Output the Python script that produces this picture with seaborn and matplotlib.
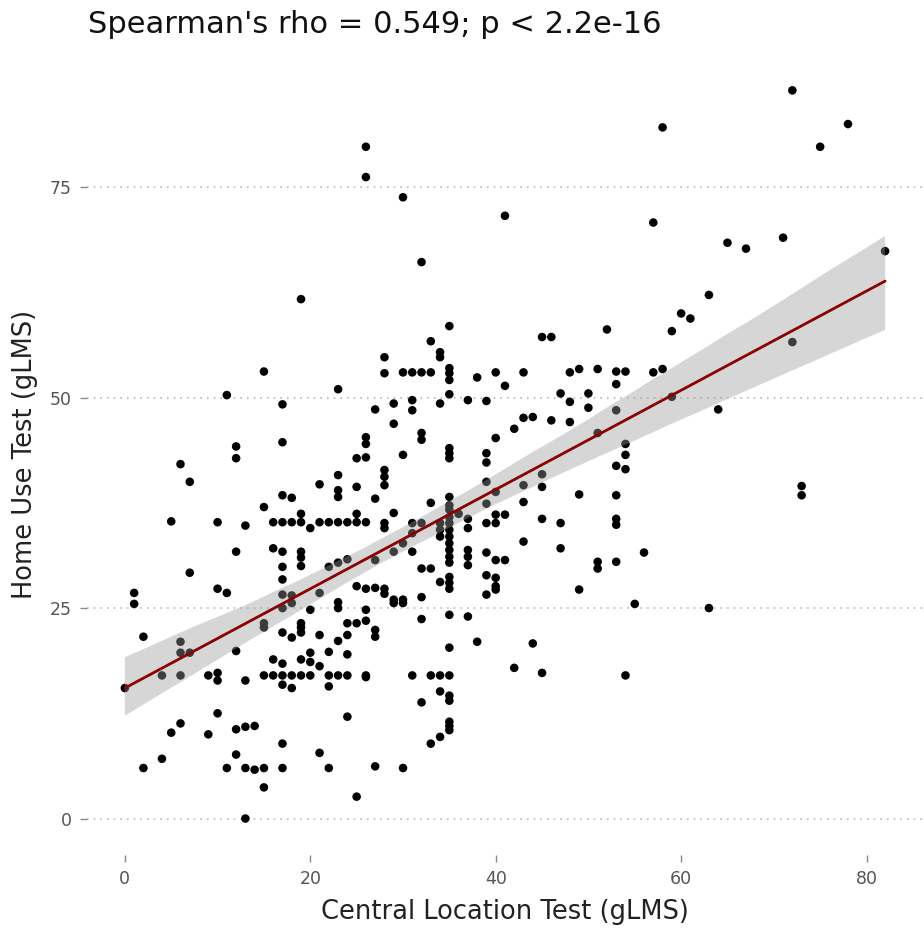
import numpy as np
import pandas as pd
import seaborn as sns
import matplotlib.pyplot as plt

# ---- data ----
clt = [
    72, 78, 75, 58, 57, 65, 67, 71, 82, 63, 60, 61, 59, 72,
    26, 26, 19,
    30, 41, 32, 35, 33, 45, 46, 52,
    15, 23, 11, 17, 27, 26, 26, 17, 12, 12, 25, 26, 6, 23, 7, 21, 23, 23, 25, 17, 18, 27, 15, 5, 10, 13,
    16, 17, 18, 19, 21, 22, 23, 24, 25, 26,
    19, 25, 20, 12, 16, 17, 19, 19, 19, 17, 7, 17, 22, 23, 24, 27, 17, 18, 21, 25, 26, 10, 11, 1, 1,
    2, 6, 6, 7, 4, 6, 0, 12, 9, 10, 10, 13, 15, 15, 20, 23, 23, 26, 24, 25, 26, 27, 17, 18, 19, 19, 19,
    21, 24, 23, 22, 20, 20, 24, 16, 17, 19, 21,
    15, 16, 17, 18, 19, 20, 22, 23, 24, 26,
    17, 18, 22, 10, 6, 5, 9, 12, 13, 14, 24, 17, 21, 12, 4, 2, 11, 13, 14, 15, 17, 22, 27, 15, 25, 13,
    17, 18,
    30, 33, 34, 35, 35, 35, 32, 34, 35, 35,
    31, 33, 34, 35, 26,
    35, 38, 44, 42, 45, 54, 55, 32, 35, 37, 32, 29, 30, 28, 27, 39, 40, 49, 63,
    34, 34, 28, 28, 30, 31, 32, 33, 35, 35, 35, 38, 40, 43, 41, 48, 49, 51, 53, 54, 53, 47, 50, 48, 50, 53,
    35, 34, 37, 39, 31, 31, 29, 29, 43, 44, 46, 48, 42, 32, 32, 40, 51, 54, 54, 54, 53, 35, 35, 35, 30, 39,
    39, 28, 28, 28, 45, 45, 43, 39, 40, 49, 53, 43, 35, 35, 33, 29, 31, 32, 39, 39, 40, 41, 40, 37, 37, 36,
    35, 35, 35, 35, 35, 35, 35, 35, 35,
    34, 34, 34,
    45, 47, 53, 53, 43, 47, 51, 51, 53, 56, 39, 37, 37, 37, 40, 41, 33, 34, 35, 35, 35, 39, 40, 40,
    30, 31, 29, 28, 28, 31, 32, 28, 29, 30, 27,
    57, 58, 59, 64, 73, 73,
]
hut = [
    86.5, 82.5, 79.8, 82.1, 70.8, 68.4, 67.7, 69.0, 67.4, 62.2, 60.0, 59.4, 57.9, 56.6,
    79.8, 76.2, 61.7,
    73.8, 71.6, 66.1, 58.5, 56.7, 57.2, 57.2, 58.1,
    53.1, 51.0, 50.3, 49.2, 48.6, 45.3, 44.5, 44.7, 44.2, 42.8, 42.8, 42.9, 42.1, 40.8, 40.0, 39.7, 39.0, 38.2, 39.4, 38.4, 38.1, 38.0, 37.0, 35.3, 35.2, 34.8,
    35.2, 35.2, 35.2, 35.2, 35.2, 35.2, 35.2, 35.2, 35.2, 35.2,
    36.2, 36.2, 34.5, 31.7, 32.1, 31.7, 31.7, 31.0, 30.0, 29.9, 29.2, 28.4, 29.9, 30.4, 30.8, 30.7, 26.6, 26.5, 26.8, 27.6, 27.3, 27.3, 26.8, 26.8, 25.5,
    21.6, 21.0, 19.7, 19.7, 17.0, 17.0, 15.5, 19.9, 17.0, 17.3, 16.4, 16.4, 23.2, 22.7, 24.8, 25.7, 25.0, 24.8, 23.2, 23.2, 23.5, 21.6, 22.1, 21.5, 22.1, 23.2, 22.7,
    21.8, 21.8, 21.1, 19.8, 19.7, 18.6, 19.5, 18.9, 18.4, 18.9, 18.1,
    17.0, 17.0, 17.0, 17.0, 17.0, 17.0, 17.0, 17.0, 17.0, 17.0,
    15.9, 15.5, 15.7, 12.5, 11.3, 10.2, 10.0, 10.6, 10.9, 11.0, 12.1, 8.9, 7.8, 7.6, 7.1, 6.0, 6.0, 6.0, 5.8, 6.0, 6.0, 6.0, 6.2, 3.7, 2.6, 0.0,
    25.0, 25.6,
    6.0, 8.9, 9.7, 11.5, 11.0, 10.5, 13.8, 15.1, 14.6, 14.0,
    17.0, 17.0, 17.0, 17.0, 16.8,
    20.3, 21.0, 20.8, 17.9, 17.3, 17.0, 25.5, 23.7, 24.2, 24.0, 26.3, 25.6, 25.6, 26.7, 22.4, 26.6, 27.2, 27.2, 25.0,
    55.4, 54.8, 54.8, 52.9, 53.0, 53.0, 53.0, 53.0, 53.5, 52.9, 52.1, 52.4, 53.0, 53.0, 51.4, 53.0, 53.4, 53.4, 53.1, 53.1, 51.6, 50.5, 50.5, 49.5, 48.8, 48.5,
    50.4, 49.3, 49.7, 49.6, 49.7, 48.5, 49.3, 46.9, 47.6, 47.7, 47.3, 47.1, 46.3, 45.8, 45.0, 45.2, 45.8, 44.5, 43.2, 41.5, 41.9, 44.0, 43.4, 42.8, 43.2, 43.4,
    42.3, 41.4, 40.6, 39.6, 40.9, 39.4, 39.6, 40.0, 38.8, 38.5, 38.4, 37.6, 38.2, 37.2, 37.5, 36.3, 35.1, 35.1, 37.4, 35.1, 36.1, 36.1, 35.1, 35.6, 34.5, 36.2,
    36.7, 35.8, 35.1, 34.3, 33.5, 32.7, 31.9, 31.1, 30.4,
    35.1, 34.3, 33.5,
    35.6, 35.1, 35.6, 34.9, 32.9, 32.1, 30.5, 29.7, 30.5, 31.6, 31.6, 31.9, 31.1, 30.1, 30.7, 30.7, 29.7, 28.1, 28.7, 28.0, 27.3, 28.9, 28.6, 27.6,
    32.7, 33.9, 31.7, 35.1, 34.5, 31.7, 29.7, 27.3, 26.0, 26.0, 27.4,
    53.0, 53.4, 50.1, 48.6, 39.5, 38.4,
]

x_ticks = [0, 20, 40, 60, 80]
y_ticks = [0, 25, 50, 75]
title = "Spearman's rho = 0.549; p < 2.2e-16"
x_label = "Central Location Test (gLMS)"
y_label = "Home Use Test (gLMS)"

df = pd.DataFrame({"clt": clt, "hut": hut})

sns.set_theme(style="white")
plt.rcParams["font.family"] = ["DejaVu Sans"]

fig = plt.figure(figsize=(9.24, 9.34), dpi=100)
ax = fig.add_axes([0.094, 0.0846, 0.905, 0.8574])

sns.scatterplot(data=df, x="clt", y="hut", color="black", s=38,
                edgecolor="none", linewidth=0, ax=ax, zorder=1)
sns.regplot(data=df, x="clt", y="hut", scatter=False, ci=95, n_boot=1000,
            seed=1, color="#999999", ax=ax, truncate=True,
            line_kws=dict(lw=2.0))
band = ax.collections[-1]
band.set_facecolor("#999999")
band.set_alpha(0.4)
band.set_edgecolor("none")
band.set_zorder(1.5)
ax.lines[-1].set_color("#8b0000")
ax.lines[-1].set_zorder(3)

ax.set_xlim(-4.1, 86.1)
ax.set_ylim(-4.33, 90.8)
ax.set_xticks(x_ticks)
ax.set_yticks(y_ticks)
for s in ax.spines.values():
    s.set_visible(False)
ax.yaxis.grid(True, linestyle=(0, (1, 3)), color="#b8b8b8", lw=1.2)
ax.xaxis.grid(False)
ax.tick_params(axis="both", length=5, width=1, color="#888888",
               labelcolor="#555555", labelsize=12.5, pad=6, bottom=True, left=True)
ax.set_xlabel(x_label, fontsize=18.5, color="#222222", labelpad=8)
ax.set_ylabel(y_label, fontsize=18.5, color="#222222", labelpad=8)
fig.text(0.095, 0.9647, title, ha="left", va="baseline", fontsize=22, color="#111111")

fig.savefig("out.png", dpi=100)
